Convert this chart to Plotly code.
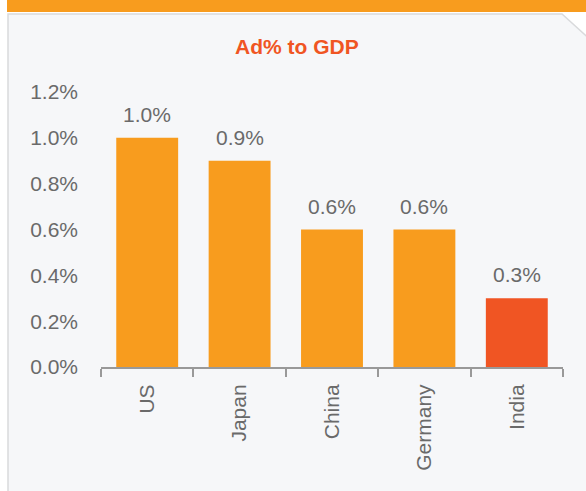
import plotly.graph_objects as go

countries = ["US", "Japan", "China", "Germany", "India"]
ad_share = [1.0, 0.9, 0.6, 0.6, 0.3]
bar_colors = ["#F89C1E", "#F89C1E", "#F89C1E", "#F89C1E", "#F05523"]
y_ticks = [0, 0.2, 0.4, 0.6, 0.8, 1.0, 1.2]
y_labels = ["%.1f%%" % v for v in y_ticks]

W, H = 586, 491
FONT = "Liberation Sans, Arial, sans-serif"
GREY = "#6a6a6a"


def px(x, y):
    # pixel -> paper coords
    return x / W, 1 - y / H


fig = go.Figure(go.Bar(
    x=countries, y=ad_share,
    marker=dict(color=bar_colors, line=dict(width=0)),
    width=0.67,
))

# value labels above bars
for c, v in zip(countries, ad_share):
    fig.add_annotation(x=c, y=v, text="%.1f%%" % v, showarrow=False,
                       yanchor="bottom", yshift=10,
                       font=dict(family=FONT, size=21, color=GREY))

# orange band + light panel with clipped corner
bx0, by0 = px(7, 0)
bx1, by1 = px(586, 12)
x0, y0 = px(8, 14)
xc, _ = px(562, 14)
_, yc = px(587, 41)
path = "M {a},{b} L {c},{b} L 1.01,{d} L 1.01,-0.01 L {a},-0.01 Z".format(a=x0, b=y0, c=xc, d=yc)
fig.update_layout(shapes=[
    dict(type="rect", xref="paper", yref="paper", x0=bx0, x1=bx1, y0=by1, y1=by0,
         fillcolor="#F89C1E", line=dict(width=0), layer="below"),
    dict(type="path", xref="paper", yref="paper", path=path,
         fillcolor="#F6F7F9", line=dict(color="#D9DADC", width=1.5), layer="below"),
])

fig.add_annotation(xref="paper", yref="paper", x=297 / W, y=1 - 47 / H,
                   xanchor="center", yanchor="middle",
                   text="<b>Ad% to GDP</b>", showarrow=False,
                   font=dict(family=FONT, size=21, color="#F05523"))

fig.update_layout(
    width=W, height=H,
    margin=dict(l=0, r=0, t=0, b=0),
    paper_bgcolor="white", plot_bgcolor="rgba(0,0,0,0)",
    showlegend=False,
    xaxis=dict(domain=[101 / W, 563 / W], automargin=False,
               showline=True, linecolor="#999999", linewidth=2,
               ticks="outside", tickson="boundaries", ticklen=8, tickwidth=2,
               tickcolor="#999999", tickangle=-90, ticklabelstandoff=7,
               tickfont=dict(family=FONT, size=21, color=GREY),
               showgrid=False),
    yaxis=dict(domain=[1 - 367 / H, 1 - 92 / H], automargin=False,
               range=[0, 1.2], tickvals=y_ticks, ticktext=y_labels,
               showgrid=False, zeroline=False, showline=False,
               ticklabelstandoff=22,
               tickfont=dict(family=FONT, size=21, color=GREY)),
)

# drop the default body margin so the figure sits at the window origin
fig.write_html("out.html", config={"displayModeBar": False},
               post_script="document.body.style.margin='0';")
